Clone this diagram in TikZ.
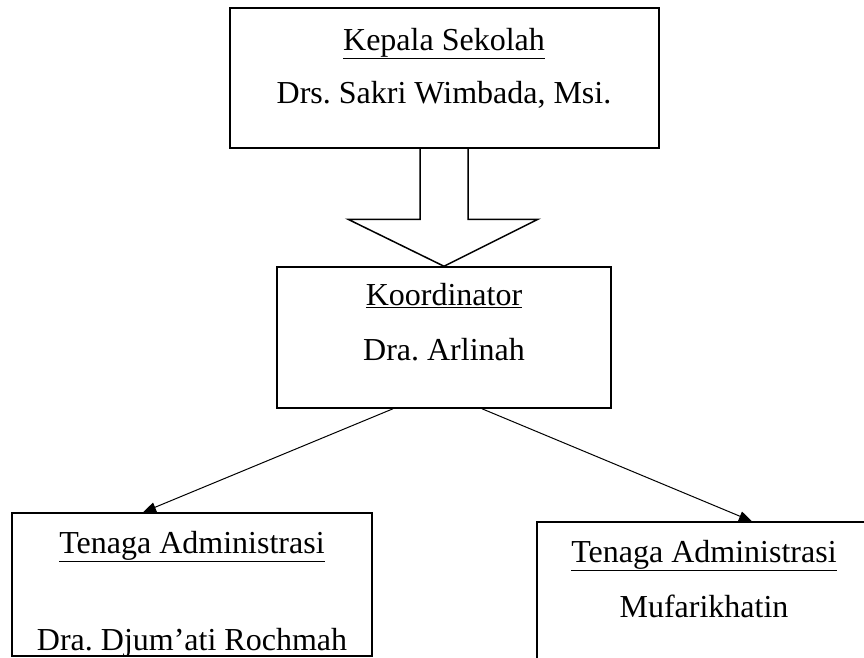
\documentclass[tikz,border=0pt]{standalone}
\usepackage{fontspec}
\setmainfont{Liberation Serif}
\usetikzlibrary{calc,arrows.meta}
\frenchspacing

\begin{document}
\begin{tikzpicture}[x=1pt,y=-1pt,>={Triangle[length=13pt,width=10pt]},line width=1.5pt,
		box/.style={rectangle,draw,inner sep=0pt},
		teks/.style={anchor=base,inner sep=0pt,font=\fontsize{32}{38}\selectfont}]
		\useasboundingbox (0,0) rectangle (864,657);
		\clip (0,0) rectangle (864,657);
		% struktur organisasi
		\node[box,minimum width=429pt,minimum height=140pt] (kepala) at (444.5,78) {};
		\node[box,minimum width=334pt,minimum height=141pt] (koor) at (444,337.5) {};
		\node[box,minimum width=360pt,minimum height=143pt] (admA) at (192,584.5) {};
		\node[box,minimum width=334pt,minimum height=150pt] (admB) at (704,597) {};
		\node[teks] (kepalaT) at (444,50) {\underline{Kepala Sekolah}};
		\node[teks] (kepalaN) at (444,103) {Drs. Sakri Wimbada, Msi.};
		\node[teks] (koorT) at (444,305) {\underline{Koordinator}};
		\node[teks] (koorN) at (444,360) {Dra. Arlinah};
		\node[teks] (admAT) at (192,553) {\underline{Tenaga Administrasi}};
		\node[teks] (admAN) at (192,650) {Dra. Djum'ati Rochmah};
		\node[teks] (admBT) at (704,562) {\underline{Tenaga Administrasi}};
		\node[teks] (admBN) at (704,617) {Mufarikhatin};
		% panah besar
		\draw[line join=miter] ($(koor.north)+(-24,-119)$) -- ($(koor.north)+(-24,-47)$)
			-- ($(koor.north)+(-96,-47)$) -- (koor.north) -- ($(koor.north)+(94,-47)$)
			-- ($(koor.north)+(24,-47)$) -- ($(koor.north)+(24,-119)$);
		\draw[->,line width=1pt] ($(koor.south)+(-51,0)$) -- ($(admA.north)+(-49,0)$);
		\draw[->,line width=1pt] ($(koor.south)+(38,0)$) -- ($(admB.north)+(48,0)$);
\end{tikzpicture}
\end{document}
